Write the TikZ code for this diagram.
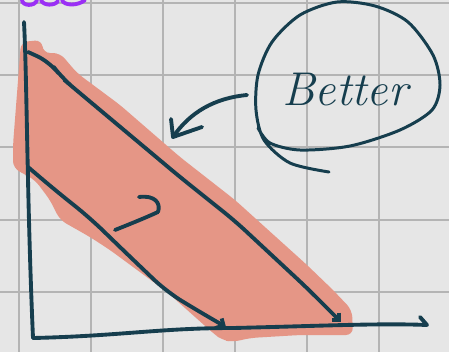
\documentclass[tikz,border=0pt]{standalone}
\usepackage{fontspec}
\usetikzlibrary{arrows.meta}
\definecolor{ink}{HTML}{163E4E}
\definecolor{band}{HTML}{E59686}
\definecolor{paper}{HTML}{E6E6E6}
\definecolor{gridline}{HTML}{B4B4B4}
\definecolor{marker}{HTML}{9B30F5}
\begin{document}
\begin{tikzpicture}[x=0.02cm, y=-0.02cm,
    pen/.style={draw=ink, line width=2.2pt, line cap=round, line join=round},
    thinpen/.style={draw=ink, line width=1.7pt, line cap=round, line join=round},
    barb/.style={-{Straight Barb[length=3pt,width=6pt]}}
]

\fill[paper] (0,0) rectangle (449,352);
\useasboundingbox (0,0) rectangle (449,352);

\foreach \gx in {19,91,163,235,307,379}
    \draw[gridline, line width=0.9pt] (\gx,0) -- (\gx,352);
\foreach \gy in {3,75,147,220,292}
    \draw[gridline, line width=0.9pt] (0,\gy) -- (449,\gy);

\draw[marker, line width=2.2pt, line cap=round] (22,0) .. controls (22,6) and (35,7) .. (37,0);
\draw[marker, line width=2.2pt, line cap=round] (41,0) .. controls (43,6) and (55,6) .. (58,1);
\draw[marker, line width=2.2pt, line cap=round] (62,0) .. controls (64,6) and (78,6) .. (85,0);

\fill[band, rounded corners=4pt] (21,42) -- (42,40) -- (43,53) -- (60,53) -- (77,73)
    -- (120,105) -- (180,157) -- (235,200) -- (307,265) -- (333,290) -- (352,310)
    -- (353,335) -- (300,335) -- (250,338) -- (233,342) -- (222,340) -- (213,333)
    -- (167,292) -- (110,250) -- (90,237) -- (60,220) -- (50,200) -- (35,180)
    -- (13,168) -- (13,145) -- cycle;

\coordinate (origin) at (33,338);
\coordinate (ytop) at (24,22);
\coordinate (xend) at (427,325);
\coordinate (hi start) at (28,52);
\coordinate (hi end) at (341,322);
\coordinate (lo start) at (28,167);
\coordinate (lo end) at (226,327);

\draw[pen] (ytop) .. controls (27,80) and (27,200) .. (origin);
\draw[pen] (origin) .. controls (120,336) and (160,328) .. (233,328)
    .. controls (320,326) and (380,323) .. (xend);
\draw[pen] (420,317) -- (xend);

\draw[pen, barb, rounded corners=8pt] (hi start) -- (50,62) -- (62,78) -- (75,89)
    -- (180,177) -- (235,221) -- (307,288) -- (hi end);
\draw[pen, barb, rounded corners=10pt] (lo start) -- (55,190) -- (90,218) -- (123,250)
    -- (167,292) -- (205,315) -- (lo end);

\coordinate (nudge from) at (115,230);
\coordinate (nudge to) at (158,212);
\draw[pen] (nudge from) .. controls (130,224) and (145,218) .. (nudge to);
\draw[pen] (139,197) .. controls (155,195) and (161,203) .. (nudge to);

\node[text=ink, font=\itshape\fontsize{27}{27}\selectfont] (better) at (345,90) {Better};
\draw[thinpen] plot[smooth] coordinates {(329,172) (290,163) (264,140) (256,110) (258,75)
    (272,42) (300,15) (337,2) (375,6) (408,22) (433,55) (440,85) (432,110) (400,130)
    (350,146) (300,150) (270,143) (258,128)};

\coordinate (hint from) at (247,95);
\coordinate (hint to) at (173,137);
\draw[pen] (hint from) .. controls (215,98) and (190,112) .. (hint to);
\draw[pen] (171,119) -- (hint to) -- (202,127);

\end{tikzpicture}
\end{document}
